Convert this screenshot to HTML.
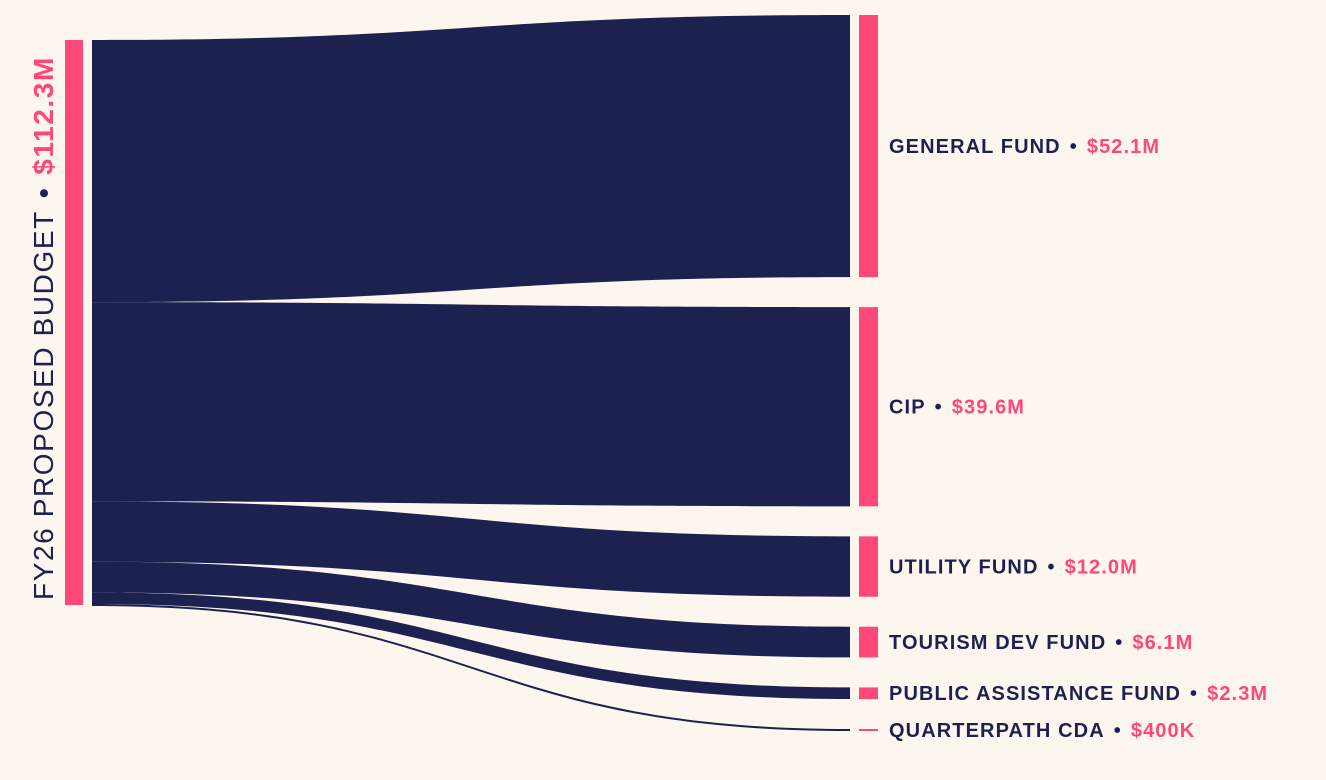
<!DOCTYPE html>
<html><head><meta charset="utf-8">
<style>
html,body{margin:0;padding:0;background:#fdf6ef;}
svg{display:block;}
text{font-family:"Liberation Sans",sans-serif;}
</style></head>
<body>
<svg id="chart" width="1326" height="780" viewBox="0 0 1326 780">
<rect width="1326" height="780" fill="#fdf6ef"/>
<g id="links"></g>
<g id="nodes"></g>
<g id="labels"></g>
<rect x="65" y="40" width="18" height="565" fill="#ff4778"/>
<text transform="translate(53,600) rotate(-90)" font-size="28" letter-spacing="1.6" fill="#1d2150"><tspan>FY26 PROPOSED BUDGET</tspan><tspan dx="12" font-weight="bold">•</tspan><tspan dx="12" fill="#ff4778" font-weight="bold">$112.3M</tspan></text>
</svg>
<script>
const categories = ["GENERAL FUND","CIP","UTILITY FUND","TOURISM DEV FUND","PUBLIC ASSISTANCE FUND","QUARTERPATH CDA"];
const values = [52.1,39.6,12.0,6.1,2.3,0.4];
const valueLabels = ["$52.1M","$39.6M","$12.0M","$6.1M","$2.3M","$400K"];
const total = 112.3;

const NS="http://www.w3.org/2000/svg";
const srcTop=40, srcH=565, scale=srcH/total;
const tgtTop=15, gap=30, x0=92, x1=850, nodeX=859, nodeW=19, labelX=889;
const links=document.getElementById('links'), nodes=document.getElementById('nodes'), labels=document.getElementById('labels');
let sy=srcTop, ty=tgtTop;
values.forEach((v,i)=>{
  const h=Math.max(v*scale,1.5);
  const mx=(x0+x1)/2;
  const p=document.createElementNS(NS,'path');
  p.setAttribute('d',`M${x0},${sy} C${mx},${sy} ${mx},${ty} ${x1},${ty} L${x1},${ty+h} C${mx},${ty+h} ${mx},${sy+h} ${x0},${sy+h} Z`);
  p.setAttribute('fill','#1d2150');
  
  
  links.appendChild(p);
  const r=document.createElementNS(NS,'rect');
  r.setAttribute('x',nodeX);r.setAttribute('y',ty);r.setAttribute('width',nodeW);r.setAttribute('height',h);
  r.setAttribute('fill','#ff4778');
  
  
  nodes.appendChild(r);
  const t=document.createElementNS(NS,'text');
  t.setAttribute('x',labelX);t.setAttribute('y',ty+h/2+7);
  t.setAttribute('font-size','20');t.setAttribute('font-weight','bold');t.setAttribute('fill','#1d2150');
  t.setAttribute('letter-spacing','1.1');
  
  
  t.innerHTML=`<tspan>${categories[i]}</tspan><tspan dx="9">•</tspan><tspan dx="9" fill="#ff4778">${valueLabels[i]}</tspan>`;
  labels.appendChild(t);
  sy+=v*scale; ty+=v*scale+gap;
});
</script>
</body></html>
